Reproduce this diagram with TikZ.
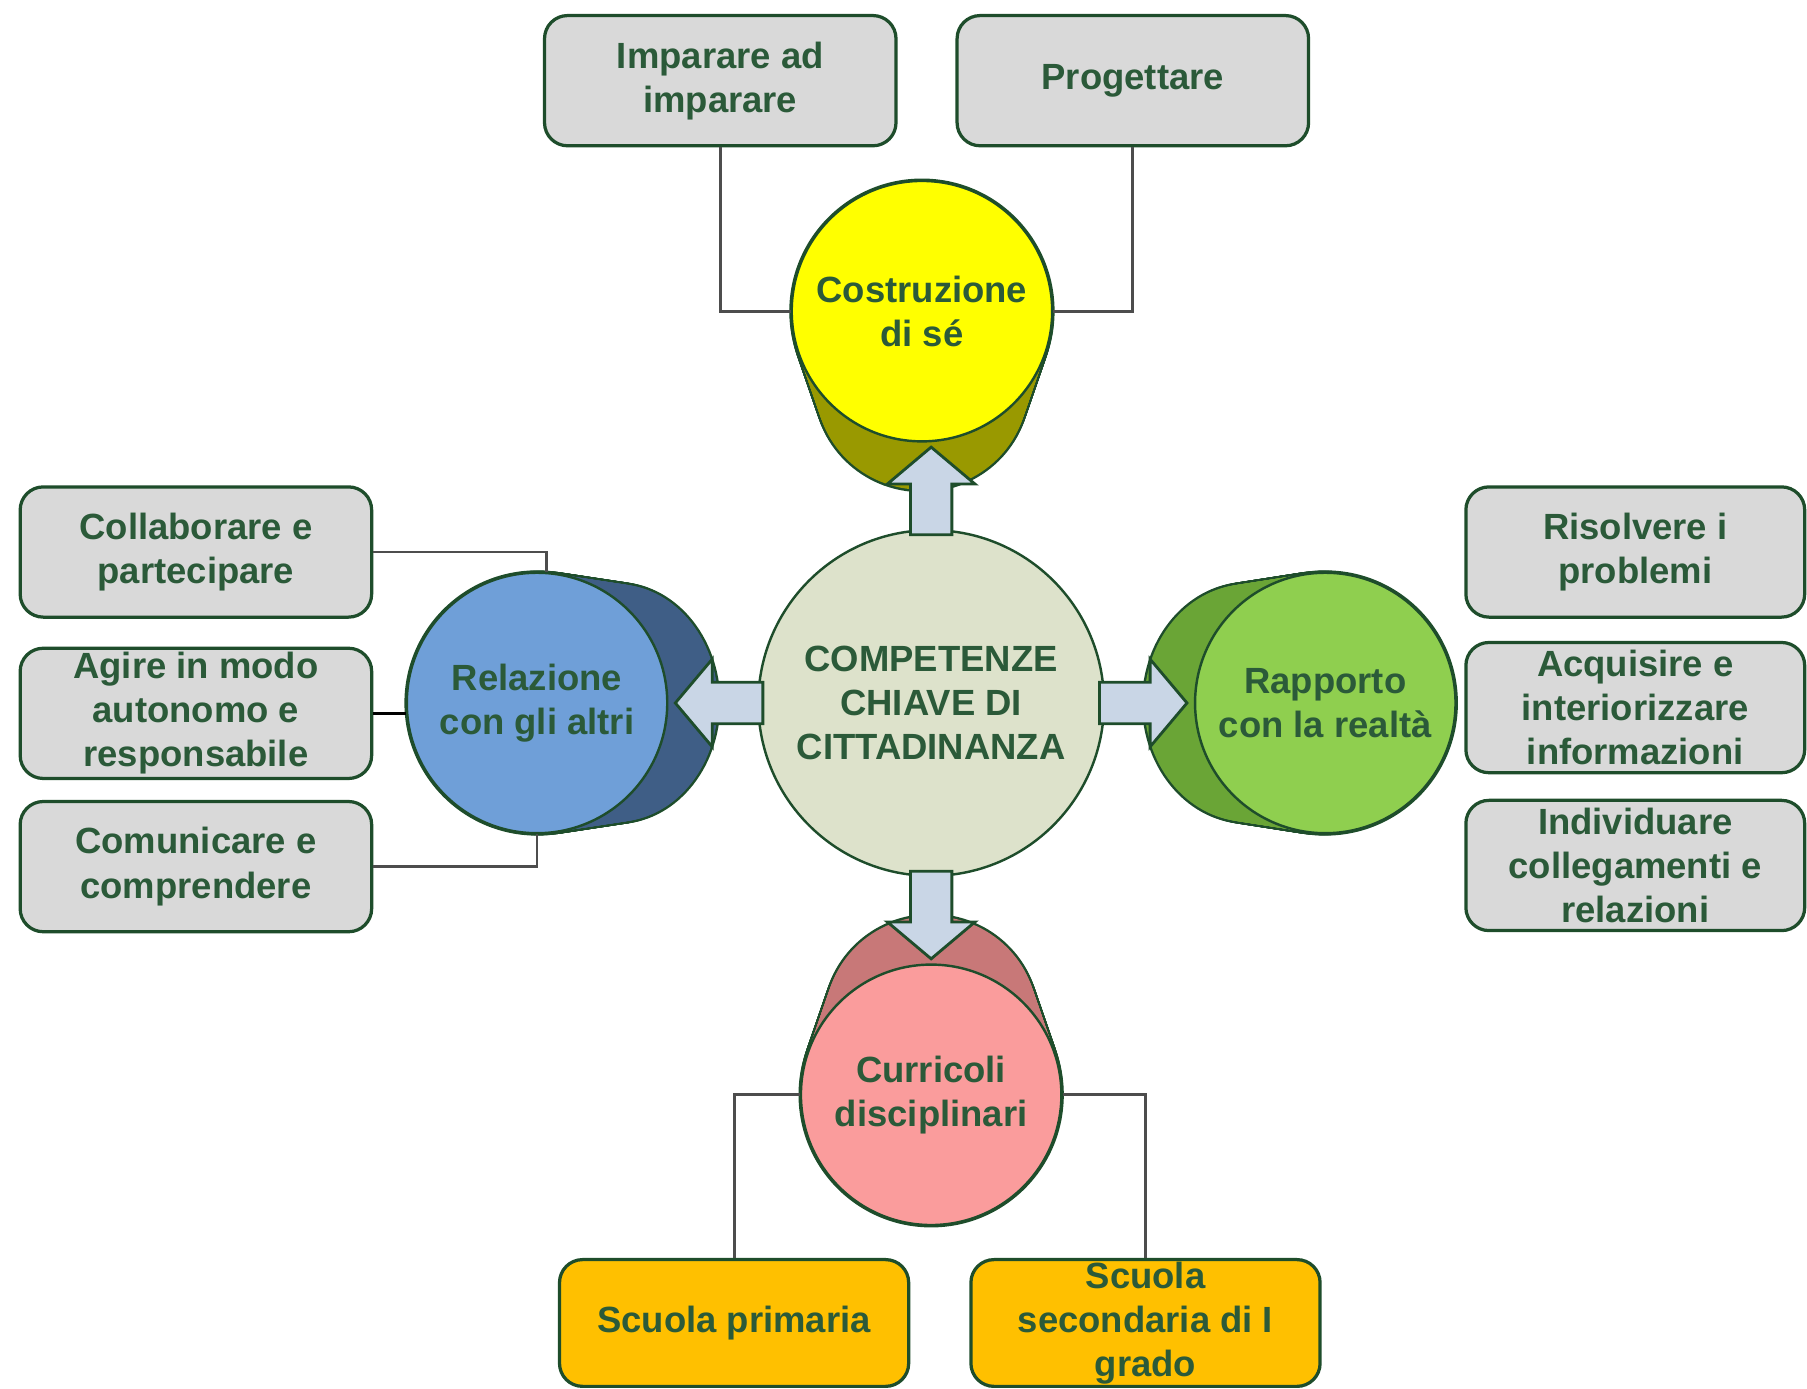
\documentclass[tikz,border=0pt]{standalone}
\usepackage{fontspec}
\setmainfont{Liberation Sans}
\usepackage{tikz}
\usetikzlibrary{calc}

\definecolor{boxgray}{HTML}{D9D9D9}
\definecolor{edgegreen}{HTML}{1E4D2B}
\definecolor{txtgreen}{HTML}{2B5A39}
\definecolor{linkgray}{HTML}{4D4D4D}
\definecolor{arrowblue}{HTML}{C9D6E6}
\definecolor{compfill}{HTML}{DDE2CB}
\definecolor{yellowfront}{HTML}{FFFF00}
\definecolor{olivedark}{HTML}{999900}
\definecolor{bluefront}{HTML}{6F9FD8}
\definecolor{bluedark}{HTML}{3F5E86}
\definecolor{greenfront}{HTML}{8FCF4F}
\definecolor{greendark}{HTML}{6AA536}
\definecolor{pinkfront}{HTML}{FA9C9C}
\definecolor{pinkdark}{HTML}{C87878}
\definecolor{schoolorange}{HTML}{FFC000}

\tikzset{
  every node/.style={font=\bfseries\fontsize{9}{10.9}\selectfont, text=txtgreen, align=center},
  skillbox/.style={draw=edgegreen, line width=0.8pt, fill=boxgray, rounded corners=2mm,
    minimum width=30.5mm, minimum height=11.3mm, inner sep=0pt},
  schoolbox/.style={skillbox, fill=schoolorange},
  disc/.style={circle, draw=edgegreen, line width=0.6pt, minimum size=22.6mm, inner sep=0pt},
  discback/.style={draw=edgegreen, line width=1.2pt},
  link/.style={draw=linkgray, line width=0.7pt},
  bigarrow/.style={draw=edgegreen, line width=0.7pt, fill=arrowblue},
}

\begin{document}
\begin{tikzpicture}[x=0.1mm, y=-0.1mm]
  \useasboundingbox (0,0) rectangle (1568,1205);

  % back side of the four discs: outline first, then the fill over it
  \foreach \fx/\fy/\bx/\by/\rx/\ry/\col in {800/270/800/335/92/90/olivedark,
      466/610/535/610/88/103/bluedark, 1150/610/1083/610/90/103/greendark,
      808/950/808/885/92/90/pinkdark}{
    \foreach \t in {0,0.025,...,1}{
      \draw[discback] ({\bx+\t*(\fx-\bx)},{\by+\t*(\fy-\by)})
        ellipse [x radius={0.1mm*(\rx+\t*(113-\rx))}, y radius={0.1mm*(\ry+\t*(113-\ry))}];
    }
    \foreach \t in {0,0.025,...,1}{
      \fill[\col] ({\bx+\t*(\fx-\bx)},{\by+\t*(\fy-\by)})
        ellipse [x radius={0.1mm*(\rx+\t*(113-\rx))}, y radius={0.1mm*(\ry+\t*(113-\ry))}];
    }
  }

  % centre
  \node[disc, minimum size=30mm, fill=compfill] (comp) at (808,610) {COMPETENZE\\CHIAVE DI\\CITTADINANZA};

  % block arrows
  \foreach \ang in {0,90,180,270}{
    \begin{scope}[shift={(comp.center)}, rotate=\ang]
      \draw[bigarrow] (146,-18) -- (190,-18) -- (190,-38) -- (222,0) -- (190,38) -- (190,18) -- (146,18) -- cycle;
    \end{scope}
  }

  % discs
  \node[disc, fill=yellowfront] (cost) at (800,270) {Costruzione\\di sé};
  \node[disc, fill=bluefront] (rel) at (466,610) {Relazione\\con gli altri};
  \node[disc, fill=greenfront] (rapp) at (1150,610) {Rapporto\\con la realtà};
  \node[disc, fill=pinkfront] (curr) at (808,950) {Curricoli\\disciplinari};

  % top boxes
  \node[skillbox] (impar) at (625,70) {Imparare ad\\imparare};
  \node[skillbox] (prog) at (983,70) {Progettare};

  % left boxes
  \node[skillbox] (collab) at (170,479) {Collaborare e\\partecipare};
  \node[skillbox] (agire) at (170,619) {Agire in modo\\autonomo e\\responsabile};
  \node[skillbox] (comun) at (170,752) {Comunicare e\\comprendere};

  % right boxes
  \node[skillbox, minimum width=29.4mm] (risolv) at (1419,479) {Risolvere i\\problemi};
  \node[skillbox, minimum width=29.4mm] (acquis) at (1419,614) {Acquisire e\\interiorizzare\\informazioni};
  \node[skillbox, minimum width=29.4mm] (indiv) at (1419,751) {Individuare\\collegamenti e\\relazioni};

  % bottom boxes
  \node[schoolbox, minimum width=30.3mm, minimum height=11mm] (prim) at (637,1148) {Scuola primaria};
  \node[schoolbox, minimum width=30.3mm, minimum height=11mm] (sec) at (994,1148) {Scuola\\secondaria di I\\grado};

  % links
  \draw[link] (impar.south) |- (cost.west);
  \draw[link] (prog.south) |- (cost.east);
  \draw[link] (collab.east) -| (rel.86);
  \draw[link, black] (agire.east) -- (agire.east -| rel.west);
  \draw[link] (comun.east) -| (rel.south);
  \draw[link] (curr.west) -| (prim.north);
  \draw[link] (curr.east) -| (sec.north);
\end{tikzpicture}
\end{document}
